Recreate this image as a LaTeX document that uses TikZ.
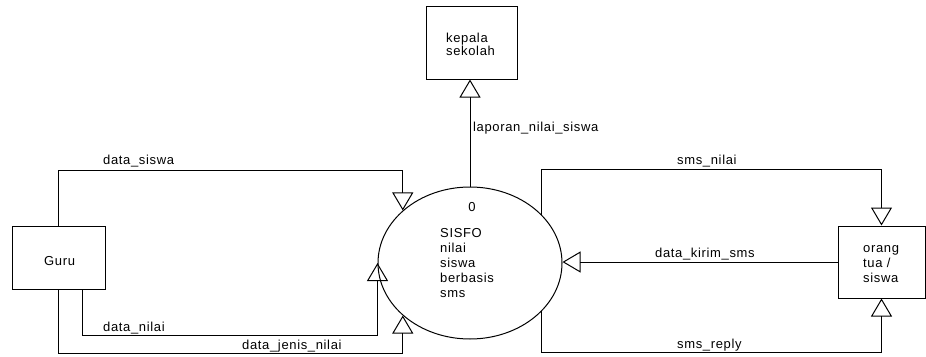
\documentclass[tikz,border=0pt]{standalone}
\usepackage{fontspec}
\setmainfont[LetterSpace=5]{Liberation Sans}
\usetikzlibrary{arrows.meta,shapes.geometric}
\begin{document}
\begin{tikzpicture}[x=1pt,y=-1pt,
  every node/.style={font=\fontsize{13}{15}\selectfont},
  entity/.style={draw,line width=1pt,rectangle,inner sep=0pt},
  proc/.style={draw,line width=1pt,ellipse,inner sep=0pt,minimum width=184pt,minimum height=152pt},
  flow/.style={line width=1pt,-{Triangle[open,length=18pt,width=21pt,line width=1pt]}},
  lbl/.style={anchor=base west,inner sep=0pt},
  txt/.style={anchor=base west,inner sep=0pt,align=left}]
\useasboundingbox (0,0) rectangle (926,356);
% entities
\node[entity,minimum width=93pt,minimum height=63pt] (G) at (58.5,257.5) {};
\node[entity,minimum width=91pt,minimum height=73pt] (K) at (471.5,42.5) {};
\node[entity,minimum width=87pt,minimum height=72pt] (O) at (881.5,262) {};
\node[proc] (P) at (470,263) {};
% texts
\node[lbl] (Gt) at (44,265) {Guru};
\node[txt,font=\fontsize{13}{13}\selectfont] (Kt) at (446,55) {kepala\\sekolah};
\node[txt] (Ot) at (863,282) {orang\\tua /\\siswa};
\node[lbl,anchor=base] (P0) at (472,211) {0};
\node[txt] (Pt) at (440,297) {SISFO\\nilai\\siswa\\berbasis\\sms};
% flows
\draw[flow] (G.north) -- ++(0,-55) -| (P.142);
\draw[flow] ([xshift=23.5pt]G.south) -- ++(0,46) -| (P.west);
\draw[flow] (G.south) -- ++(0,64) -| (P.218);
\draw[flow] (P.north) -- (K.south -| P.north);
\draw[flow] (P.34) -- ++(0,-45) -| (O.north);
\draw[flow] (P.-34) -- ++(0,41) -| (O.south);
\draw[flow] (O.west) -- (O.west -| P.east);
% labels
\node[lbl] (l1) at (103,164) {data\_siswa};
\node[lbl] (l2) at (103,331) {data\_nilai};
\node[lbl] (l3) at (242,349) {data\_jenis\_nilai};
\node[lbl] (l4) at (473,131) {laporan\_nilai\_siswa};
\node[lbl] (l5) at (677,164) {sms\_nilai};
\node[lbl] (l6) at (655,257) {data\_kirim\_sms};
\node[lbl] (l7) at (677,348) {sms\_reply};
\end{tikzpicture}
\end{document}
